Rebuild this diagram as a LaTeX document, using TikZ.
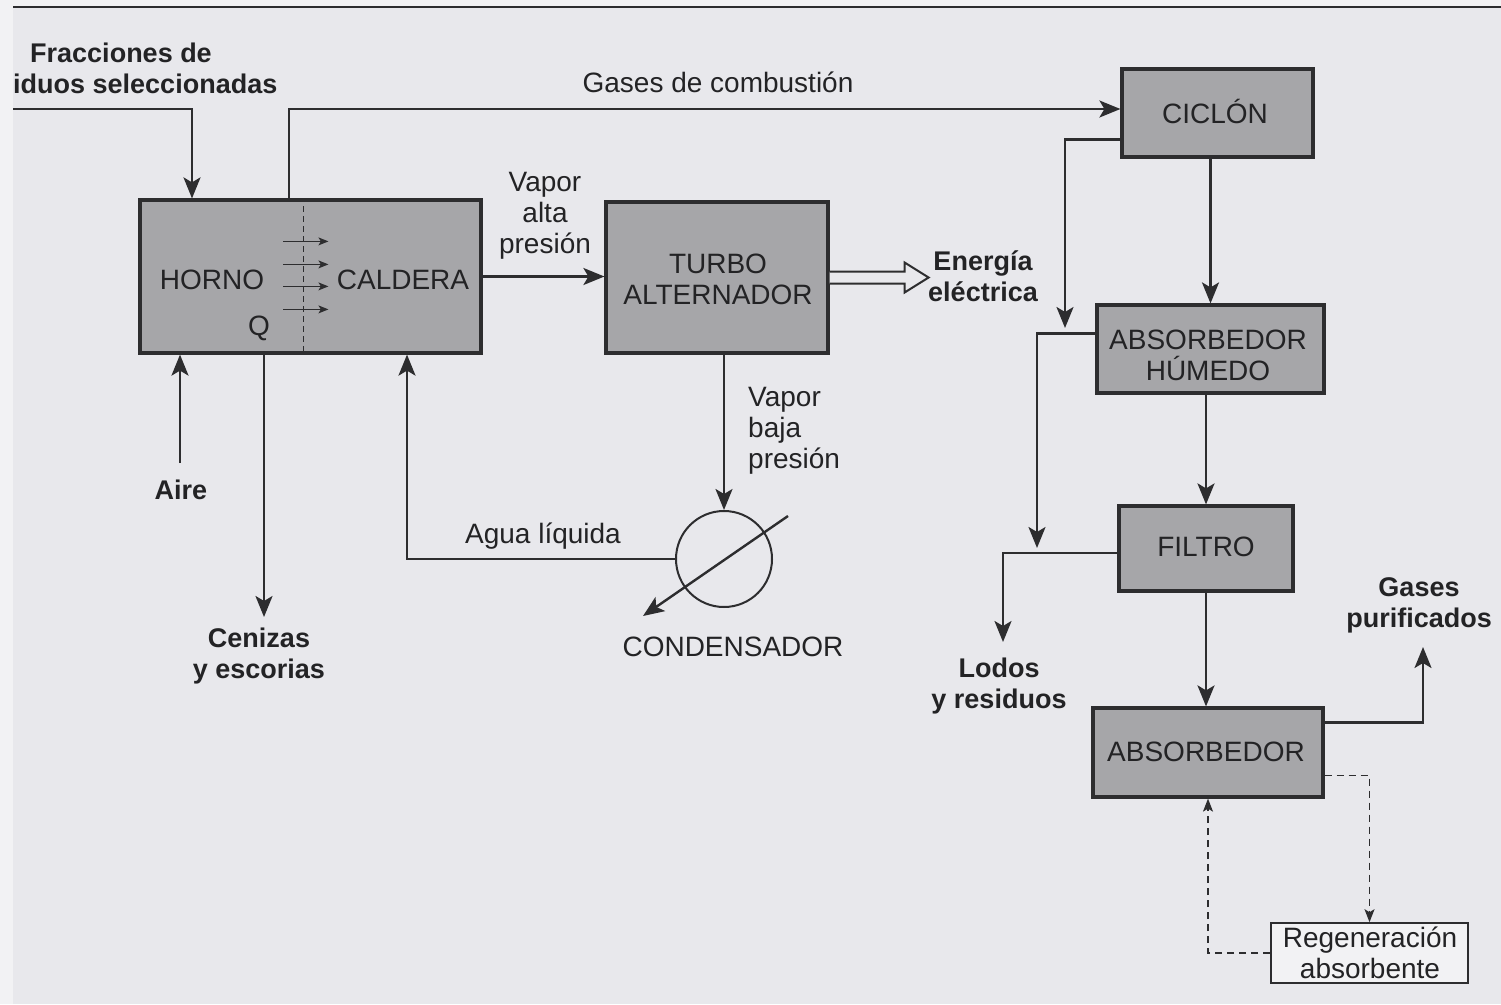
\documentclass[tikz,border=0pt]{standalone}
\usepackage{fontspec}
\setmainfont{Liberation Sans}
\usetikzlibrary{arrows.meta,calc}
\definecolor{bg}{RGB}{232,232,236}
\definecolor{bgl}{RGB}{242,242,244}
\definecolor{boxfill}{RGB}{166,166,169}
\definecolor{ink}{RGB}{45,45,47}
\definecolor{txt}{RGB}{35,35,37}
\newcommand\myreg{\fontsize{28}{31}\selectfont}
\newcommand\mybold{\fontsize{27}{31}\selectfont\bfseries}
\begin{document}
\begin{tikzpicture}[x=1pt,y=-1pt,
  box/.style={draw=ink,fill=boxfill,line width=3.2pt,inner sep=0pt,align=center,font=\myreg,text=txt},
  lbl/.style={inner sep=0pt,align=center,font=\myreg,text=txt},
  blbl/.style={inner sep=0pt,align=center,font=\mybold,text=txt},
  conn/.style={draw=ink,line width=2.4pt},
  arr/.style={conn,-{Stealth[length=21pt,width=17pt,inset=5pt]}},
  smallarr/.style={draw=ink,line width=1.2pt,-{Stealth[length=10pt,width=8pt,inset=2.5pt]}},
  dasharr/.style={draw=ink,line width=1.5pt,dash pattern=on 7pt off 5pt,-{Stealth[length=13pt,width=10pt,inset=3pt]}}
]
\useasboundingbox (0,0) rectangle (1501,1004);
\fill[bg] (0,0) rectangle (1501,1004);
\fill[bgl] (0,0) rectangle (13,1004);
\fill[bgl] (13,0) rectangle (1501,6);
\draw[ink,line width=1.8pt] (13,7) -- (1501,7);

% boxes
\node[box,minimum width=341pt,minimum height=153pt] (horno) at (310.5,276.5) {};
\node[box,minimum width=222pt,minimum height=151pt] (turbo) at (717,277.5) {};
\node[box,minimum width=191pt,minimum height=88pt] (ciclon) at (1217.5,113) {};
\node[box,minimum width=227pt,minimum height=88pt] (abshum) at (1210.5,349) {};
\node[box,minimum width=174pt,minimum height=85pt] (filtro) at (1206,548.5) {};
\node[box,minimum width=230pt,minimum height=89pt] (absorb) at (1208,752.5) {};
\node[draw=ink,fill=bgl,line width=1.6pt,inner sep=0pt,
      minimum width=197pt,minimum height=60pt] (regen) at (1369.5,953) {};
\node[circle,draw=ink,line width=2pt,minimum size=96pt,inner sep=0pt] (cond) at (724,559) {};

% box texts
\node[lbl] (tTurbo) at (718,279) {TURBO\\ALTERNADOR};
\node[lbl] (tCiclon) at (1215,111) {CICLÓN};
\node[lbl] (tAbshum) at (1208,355) {ABSORBEDOR\\HÚMEDO};
\node[lbl] (tFiltro) at (1206,547) {FILTRO};
\node[lbl] (tAbsorb) at (1206,752) {ABSORBEDOR};
\node[lbl] (tRegen) at (1370,953) {Regeneración\\absorbente};
\node[lbl] (tHorno) at (212,280) {HORNO};
\node[lbl] (tCaldera) at (403,280) {CALDERA};
\node[lbl] (tQ) at (259,328) {Q};
\draw[ink,line width=1.6pt,dash pattern=on 6pt off 4pt] ($(horno.north west)+(165,8)$) -- ($(horno.south west)+(165,0)$);
\foreach \yy in {43,66,88,111}{
  \draw[smallarr] ($(horno.north west)+(145,\yy)$) -- ++(45,0);
}

% labels
\node[blbl] (frac1) at (121,53) {Fracciones de};
\node[blbl,anchor=west] (frac2) at (13,84) {iduos seleccionadas};
\node[lbl] (gases) at (718,82) {Gases de combustión};
\node[lbl] (vaporA) at (545,216) {Vapor\\alta\\presión};
\node[blbl] (energia) at (983,276) {Energía\\eléctrica};
\node[lbl,anchor=west,align=left] (vaporB) at (748,431) {Vapor\\baja\\presión};
\node[lbl] (agua) at (543,536) {Agua líquida};
\node[lbl] (condLbl) at (733,647) {CONDENSADOR};
\node[blbl] (aire) at (181,490) {Aire};
\node[blbl] (ceniz) at (259,656) {Cenizas\\y escorias};
\node[blbl] (lodos) at (999,686) {Lodos\\y residuos};
\node[blbl] (gpur) at (1419,605) {Gases\\purificados};

% coordinates
\coordinate (fin) at (13,109);
\coordinate (fracIn) at (192,109);
\coordinate (gasUp) at (289,109);
\coordinate (aireIn) at (180,463);
\coordinate (cenOut) at (264,617);
\coordinate (aguaX) at (407,559);
\coordinate (cicDown) at (1065,328);
\coordinate (humDown) at (1037,548);
\coordinate (lodosDown) at (1003,642);
\coordinate (gpOut) at (1423,647);

% connectors
\draw[arr] (fin) -- (fracIn) -- (fracIn |- horno.north);
\draw[arr] (gasUp |- horno.north) -- (gasUp) -- (gasUp -| ciclon.west);
\draw[arr] (horno.east) -- (horno.east -| turbo.west);
\fill[bg] ($(turbo.east)+(0,-6)$) -- ++(75,0) -- ++(0,-9) -- ++(24,15) -- ++(-24,15) -- ++(0,-9) -- ++(-75,0) -- cycle;
\draw[ink,line width=2pt,line join=miter] ($(turbo.east)+(0,-6)$) -- ++(75,0) -- ++(0,-9) -- ++(24,15) -- ++(-24,15) -- ++(0,-9) -- ++(-75,0);
\draw[arr] (cond.north |- turbo.south) -- (cond.north);
\draw[arr] ($(cond.center)+(64,-43)$) -- ($(cond.center)+(-81,57)$);
\draw[arr] (cond.west) -- (aguaX) -- (aguaX |- horno.south);
\draw[arr] (aireIn) -- (aireIn |- horno.south);
\draw[arr] (cenOut |- horno.south) -- (cenOut);

\draw[arr] (abshum.north |- ciclon.south) -- (abshum.north);
\draw[arr] ($(ciclon.south west)+(0,-19)$) -| (cicDown);
\draw[arr] ($(abshum.north west)+(0,30)$) -| (humDown);
\draw[arr] ($(filtro.west)+(0,4.5)$) -| (lodosDown);
\draw[arr] (filtro.north |- abshum.south) -- (filtro.north);
\draw[arr] (filtro.south) -- (filtro.south |- absorb.north);
\draw[arr] ($(absorb.north east)+(0,16)$) -| (gpOut);
\draw[dasharr] ($(absorb.north east)+(0,69)$) -| (regen.north);
\draw[dasharr] (regen.west) -| (absorb.south);
\end{tikzpicture}
\end{document}
